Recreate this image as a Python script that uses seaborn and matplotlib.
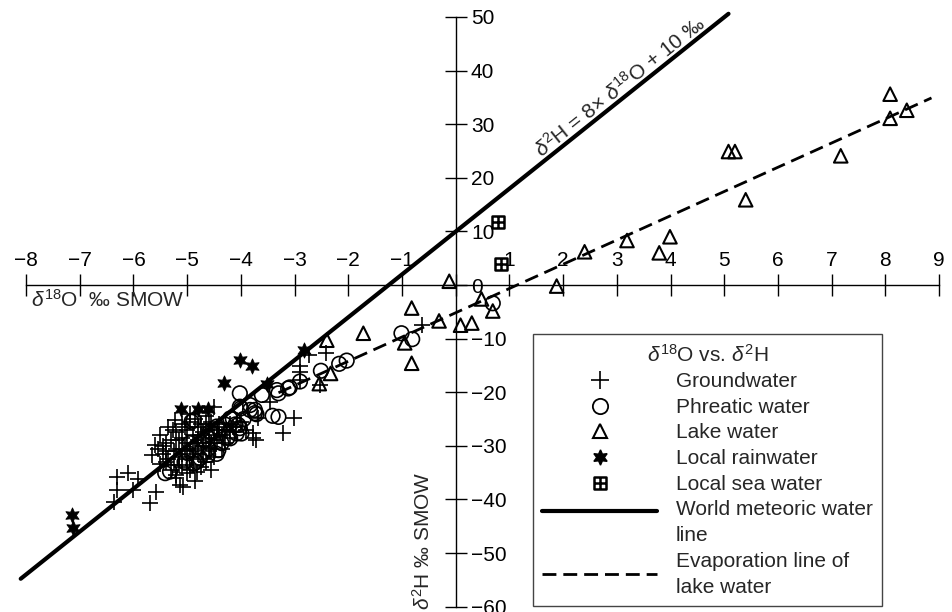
import matplotlib
matplotlib.use('Agg')
import numpy as np
import matplotlib.pyplot as plt
import seaborn as sns
from matplotlib.lines import Line2D
from matplotlib.path import Path
from matplotlib.legend_handler import HandlerLine2D

# Groundwater (+)
gw_x = [-6.31, -6.31, -6.36, -6.11, -5.91, -6.00, -5.58, -5.69, -5.07, -5.20,
        -5.66, -5.60, -5.51, -5.23, -5.26, -3.77, -3.77, -3.71, -3.02, -3.21,
        -3.68, -2.41, -2.90, -2.90, -2.74, -2.90, -2.53, -0.63, -4.51, -5.13,
        -4.82, -3.46,
        -5.30, -5.20, -5.20, -5.10, -5.10, -5.10, -5.00, -5.00, -5.00, -4.95,
        -4.90, -4.90, -4.90, -4.80, -4.80, -4.80, -4.75, -4.70, -4.70, -4.70,
        -4.60, -4.60, -4.60, -4.50, -4.50, -4.50, -4.40, -4.40, -4.30, -4.30,
        -4.20, -4.20, -4.10, -5.40, -5.40, -5.30, -5.20, -5.00, -4.85, -5.50,
        -5.35, -4.95, -4.65, -4.00, -3.90, -5.45, -5.15, -4.55,
        -5.25, -5.15, -5.05, -4.95, -4.85, -4.75, -4.65, -4.55, -4.45, -4.35,
        -4.25, -5.35, -5.25, -5.10, -4.95, -5.05, -4.85, -4.75, -4.55, -4.45,
        -5.45, -5.55, -5.40, -4.65, -4.90, -5.15, -4.35, -4.15]
gw_y = [-35.8, -38.2, -40.4, -35.1, -36.1, -38.2, -38.7, -40.7, -37.6, -35.5,
        -31.7, -29.9, -33.3, -25.2, -27.1, -27.7, -28.5, -29.0, -24.9, -27.7,
        -24.9, -12.7, -15.2, -16.2, -13.1, -17.7, -18.7, -7.5, -22.7, -37.3,
        -34.8, -21.8,
        -29.0, -27.5, -30.5, -26.0, -28.5, -31.5, -27.0, -29.5, -32.5, -25.5,
        -28.0, -30.5, -33.5, -26.5, -29.0, -31.5, -34.0, -27.5, -30.0, -32.5,
        -26.0, -28.5, -31.0, -27.0, -29.5, -32.0, -26.0, -28.0, -27.0, -29.5,
        -26.0, -28.5, -27.5, -31.0, -33.0, -34.5, -36.0, -35.0, -36.5, -28.0,
        -26.5, -24.0, -24.5, -25.5, -27.0, -30.0, -33.5, -34.5,
        -31.0, -29.0, -30.5, -31.0, -29.5, -28.0, -29.5, -30.5, -29.0, -28.0,
        -27.0, -32.5, -33.5, -34.0, -34.5, -26.5, -25.0, -26.0, -25.5, -26.5,
        -31.5, -30.5, -29.5, -33.0, -32.0, -32.0, -30.5, -26.5]

# Phreatic water (o)
ph_x = [0.69, -1.01, -0.81, -2.03, -2.17, -2.51, -2.90, -3.09, -3.30, -3.61,
        -3.74, -3.41, -3.30, -3.33, -3.12, -3.74, -3.83, -4.02, -4.00, -3.71,
        -4.02, -4.08, -4.92, -4.61, -4.82, -5.41, -4.42, -4.02, -3.83, -4.05,
        -3.99, -4.20, -4.36, -4.45, -4.58, -4.67, -4.82, -4.88, -4.98, -4.76,
        -4.88, -5.32, -4.20,
        -4.70, -4.55, -4.40, -4.30, -4.15, -4.60, -4.95, -5.05, -4.45, -4.25,
        -3.95, -4.10]
ph_y = [-3.4, -9.0, -10.1, -14.1, -14.7, -16.0, -18.0, -19.1, -20.2, -20.5,
        -23.9, -24.4, -24.6, -19.6, -19.3, -23.3, -22.4, -20.2, -23.0, -24.1,
        -26.7, -27.7, -25.5, -31.7, -33.0, -35.1, -30.8, -22.7, -23.3, -26.1,
        -27.7, -28.6, -29.5, -26.4, -27.4, -28.9, -30.2, -25.2, -31.4, -32.3,
        -33.3, -34.8, -24.9,
        -29.0, -27.5, -27.0, -26.0, -25.0, -30.5, -29.5, -33.0, -31.5, -28.5,
        -25.0, -26.0]

# Lake water (triangles)
lake_x = [8.09, 8.09, 8.40, 7.17, 5.08, 5.20, 5.40, 3.99, 3.79, 3.19,
          2.40, 1.88, -0.12, -0.82, -0.31, 0.09, 0.30, 0.48, 0.69, -1.72,
          -0.82, -0.95, -2.40, -2.33, -2.54]
lake_y = [35.6, 31.1, 32.6, 24.1, 24.9, 24.9, 15.9, 9.0, 6.0, 8.3,
          6.2, -0.2, 0.7, -4.3, -6.7, -7.5, -7.1, -2.6, -4.85, -9.0,
          -14.6, -10.8, -10.3, -16.5, -18.4]

# Local rainwater (stars)
rain_x = [-7.15, -7.12, -4.02, -3.80, -4.31, -5.12, -4.79, -4.61, -3.51, -2.82]
rain_y = [-42.9, -45.4, -14.0, -15.2, -18.2, -23.1, -23.1, -23.1, -18.4, -12.2]

# Local sea water
sea_x = [0.79, 0.84]
sea_y = [11.7, 4.0]

# Lines (end points)
wmwl_x = [-8.1, 5.08]
wmwl_y = [-54.8, 50.6]
evap_x = [-3.3, 8.86]
evap_y = [-20.1, 34.9]

x_ticks = list(range(-8, 10))
y_ticks = list(range(-60, 60, 10))

legend_labels = ['Groundwater', 'Phreatic water', 'Lake water', 'Local rainwater',
                 'Local sea water', 'World meteoric water\nline',
                 'Evaporation line of\nlake water']

sns.set_style('white')
plt.rcParams['font.family'] = ['Liberation Sans', 'DejaVu Sans']
plt.rcParams['mathtext.fontset'] = 'custom'
plt.rcParams['mathtext.rm'] = 'Liberation Sans'
plt.rcParams['mathtext.it'] = 'Liberation Sans:italic'
plt.rcParams['mathtext.bf'] = 'Liberation Sans:bold'

FS = 15

fig = plt.figure(figsize=(9.52, 6.12), dpi=100)
ax = fig.add_axes([0, 0, 1, 1])
ax.set_xlim(-8.486, 9.242)
ax.set_ylim(-61.0, 53.17)
ax.patch.set_alpha(0)

# axes crossing at the origin
for s in ['bottom', 'left']:
    ax.spines[s].set_visible(False)
ax.spines['top'].set_position(('data', 0))
ax.spines['right'].set_position(('data', 0))
ax.spines['top'].set_bounds(-8, 9)
ax.spines['right'].set_bounds(-60, 50)
for s in ['top', 'right']:
    ax.spines[s].set_color('black')
    ax.spines[s].set_linewidth(1)
ax.xaxis.set_ticks_position('top')
ax.yaxis.set_ticks_position('right')
ax.set_xticks(x_ticks)
ax.set_xticklabels([str(v).replace('-', '\u2212') if v != 0 else '' for v in x_ticks])
ax.set_yticks(y_ticks)
ax.set_yticklabels([str(v).replace('-', '\u2212') for v in y_ticks])
ax.tick_params(direction='inout', length=16, width=1, colors='black',
               labelsize=FS, pad=3)

# lines
sns.lineplot(x=wmwl_x, y=wmwl_y, color='black', lw=3, ax=ax, zorder=2)
sns.lineplot(x=evap_x, y=evap_y, color='black', lw=2, linestyle=(0, (5, 2.5)),
             ax=ax, zorder=2)

# sea water marker: square with a cross
sea_marker = Path([(-1, -1), (1, -1), (1, 1), (-1, 1), (-1, -1),
                   (0, -1), (0, 1), (-1, 0), (1, 0)],
                  [Path.MOVETO, Path.LINETO, Path.LINETO, Path.LINETO, Path.CLOSEPOLY,
                   Path.MOVETO, Path.LINETO, Path.MOVETO, Path.LINETO])

sns.scatterplot(x=gw_x, y=gw_y, marker='+', s=140, color='black', linewidth=1.2,
                ax=ax, zorder=3)
sns.scatterplot(x=ph_x, y=ph_y, marker='o', s=110, facecolor='none',
                edgecolor='black', linewidth=1.2, ax=ax, zorder=3)
sns.scatterplot(x=lake_x, y=lake_y, marker='^', s=95, facecolor='none',
                edgecolor='black', linewidth=1.5, ax=ax, zorder=3)
sns.scatterplot(x=rain_x, y=rain_y, marker=(6, 1, 0), s=120, color='black',
                edgecolor='black', linewidth=0.6, ax=ax, zorder=3)
sns.scatterplot(x=sea_x, y=sea_y, marker=sea_marker, s=75, facecolor='none',
                edgecolor='black', linewidth=1.8, ax=ax, zorder=3)

# annotation along the meteoric line
p1 = ax.transData.transform((0, 10))
p2 = ax.transData.transform((1, 18))
ang = np.degrees(np.arctan2(p2[1] - p1[1], p2[0] - p1[0]))
ax.text(3.06, 37.0, r'$\delta^2$H = 8× $\delta^{18}$O + 10 ‰', fontsize=FS,
        rotation=ang, rotation_mode='anchor', ha='center', va='center')

ax.text(-7.9, -2.8, r'$\delta^{18}$O  ‰ SMOW', fontsize=FS, ha='left', va='center')
ax.text(-0.62, -60.6, r'$\delta^2$H ‰ SMOW', fontsize=FS, rotation=90,
        ha='center', va='bottom')


class TopLine(HandlerLine2D):
    def create_artists(self, legend, orig_handle, xdescent, ydescent, width,
                       height, fontsize, trans):
        arts = super().create_artists(legend, orig_handle, xdescent, ydescent,
                                      width, height, fontsize, trans)
        for a in arts:
            a.set_ydata(np.asarray(a.get_ydata()) + 0.6 * fontsize)
        return arts


handles = [
    Line2D([], [], ls='none', marker='+', color='black', ms=13, mew=1.2),
    Line2D([], [], ls='none', marker='o', mfc='none', mec='black', ms=11, mew=1.3),
    Line2D([], [], ls='none', marker='^', mfc='none', mec='black', ms=10, mew=1.5),
    Line2D([], [], ls='none', marker=(6, 1, 0), color='black', ms=11),
    Line2D([], [], ls='none', marker=sea_marker, mfc='none', mec='black', ms=8.5, mew=1.8),
    Line2D([], [], color='black', lw=3),
    Line2D([], [], color='black', lw=2, ls=(0, (5, 2.5))),
]
leg = ax.legend(handles, legend_labels, title=r'$\delta^{18}$O vs. $\delta^2$H',
                loc='lower left', bbox_to_anchor=(533 / 952, 6 / 612),
                borderaxespad=0, fontsize=FS, title_fontsize=FS, numpoints=1,
                handlelength=5.5, handletextpad=0.9, labelspacing=0.32,
                borderpad=0.45, fancybox=False, framealpha=1,
                edgecolor='#444444', handler_map={handles[5]: TopLine()})
leg.get_frame().set_linewidth(1)
for t in leg.get_texts():
    t.set_linespacing(1.45)

fig.savefig('out.png', dpi=100)
